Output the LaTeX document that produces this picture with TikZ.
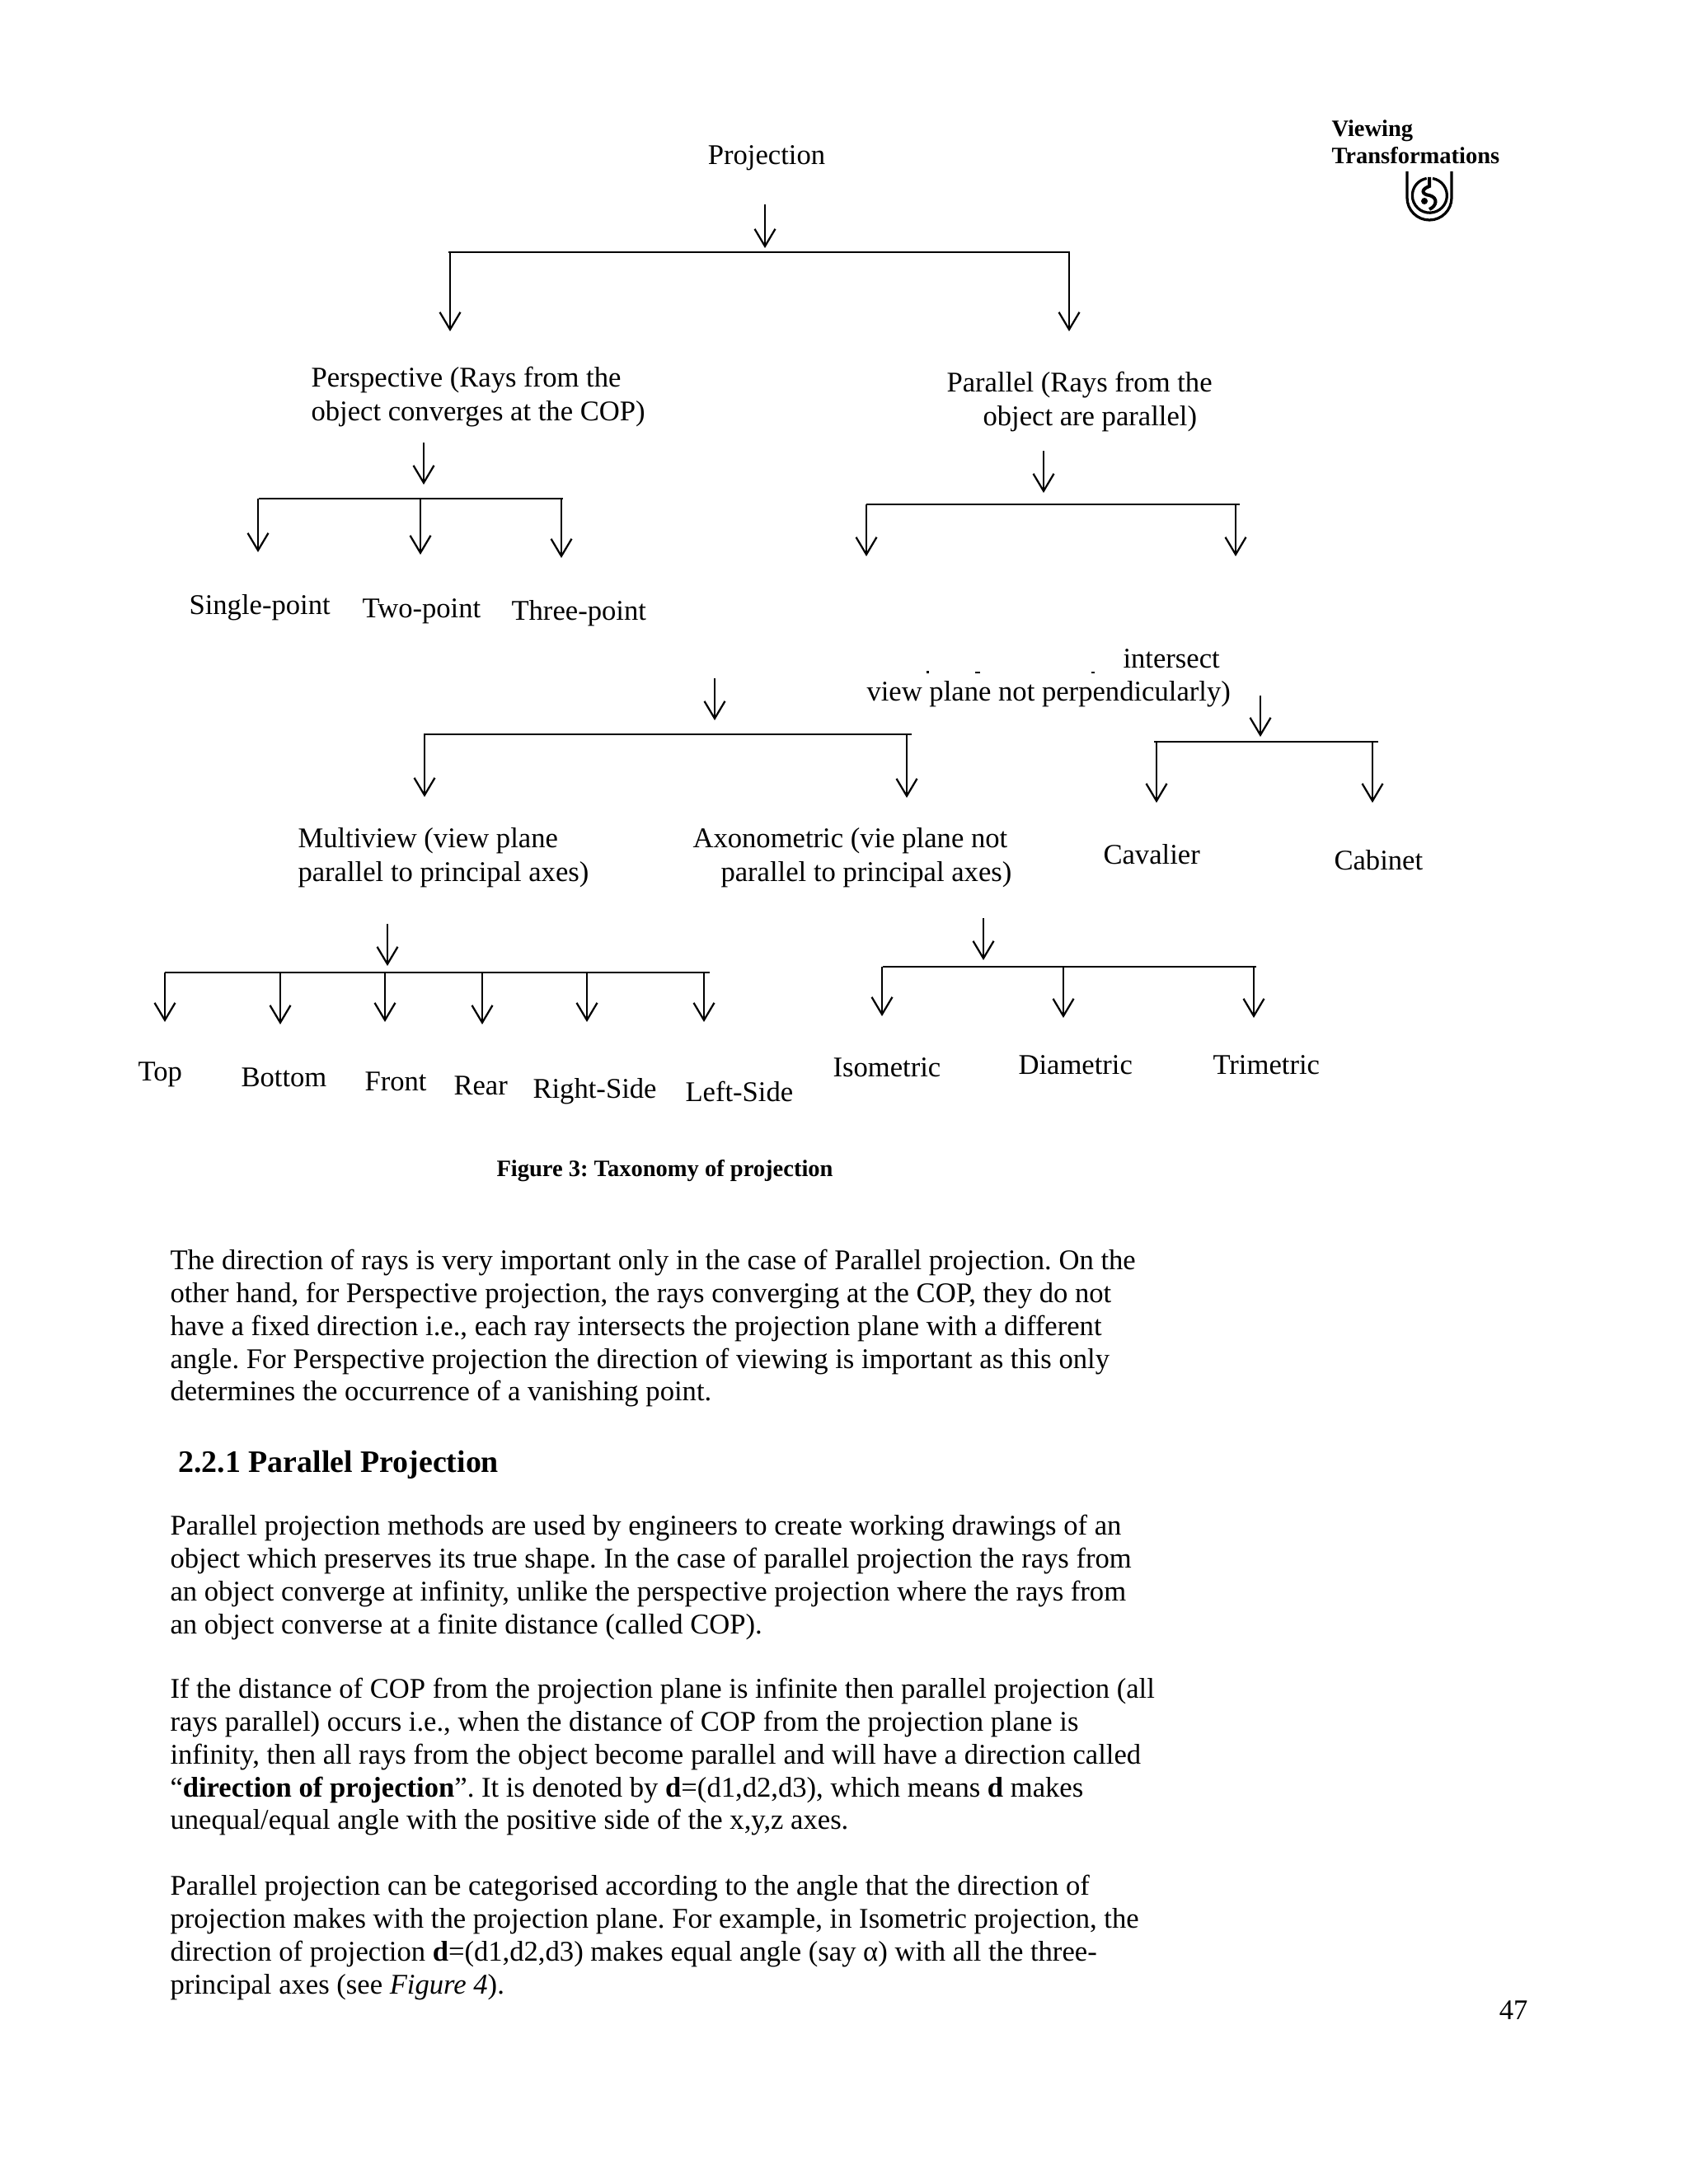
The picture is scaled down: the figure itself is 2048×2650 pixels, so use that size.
\documentclass[tikz,border=0pt]{standalone}
\usepackage{fontspec}
\setmainfont{Liberation Serif}
\usetikzlibrary{arrows.meta}
\tikzset{
  lab/.style={anchor=base west,inner sep=0pt,font=\fontsize{13.85}{17}\selectfont},
  labtwo/.style={anchor=north west,inner sep=0pt,align=left,font=\fontsize{13.85}{16.2}\selectfont},
  headlab/.style={anchor=base west,inner sep=0pt,font=\fontsize{11.4}{13}\selectfont\bfseries},
  bodytext/.style={anchor=north west,inner sep=0pt,align=left,font=\fontsize{13.85}{15.9}\selectfont},
  barline/.style={line width=1pt},
  downarrow/.style={line width=0.9pt,-{Straight Barb[length=8.4pt,width=10pt,line width=0.9pt]}}
}
\begin{document}
\frenchspacing
\begin{tikzpicture}[x=0.4pt,y=-0.4pt]
  \useasboundingbox (0,0) rectangle (2048,2650);

  \node[lab,anchor=base] (projection) at (930,200) {Projection};
  \node[headlab] (viewing) at (1615,166) {Viewing};
  \node[headlab] (transformations) at (1615,199) {Transformations};

  % emblem
  \draw[line width=1.3pt] (1707,208) -- (1707,240) arc[start angle=180,end angle=0,radius=27] -- (1761,208);
  \draw[line width=1.3pt] (1738,216.5) arc[start angle=-80,end angle=260,radius=21] ;
  \draw[line width=1.6pt] (1734,215) -- (1734,226) .. controls (1723,230) and (1725,236) .. (1734,237)
    .. controls (1745,240) and (1743,250) .. (1734,254);
  \fill (1728,244) circle[radius=4];

  % top level
  \coordinate (projIn) at (928,248);
  \coordinate (projInTip) at (928,301);
  \draw[downarrow] (projIn) -- (projInTip);
  \coordinate (projBarL) at (544,306);
  \coordinate (projBarR) at (1298,306);
  \draw[barline] (projBarL) -- (projBarR);
  \coordinate (projA) at (546,306);
  \coordinate (projATip) at (546,402);
  \draw[downarrow] (projA) -- (projATip);
  \coordinate (projB) at (1297,306);
  \coordinate (projBTip) at (1297,402);
  \draw[downarrow] (projB) -- (projBTip);

  \node[labtwo] (perspective) at (377,445) {Perspective (Rays from the\\object converges at the COP)};
  \node[labtwo] (parallel) at (1148,451) {Parallel (Rays from the\\\hspace*{17.6pt}object are parallel)};

  % perspective branch
  \coordinate (perspIn) at (514,537);
  \coordinate (perspInTip) at (514,588);
  \draw[downarrow] (perspIn) -- (perspInTip);
  \coordinate (perspBarL) at (314,605);
  \coordinate (perspBarR) at (683,605);
  \draw[barline] (perspBarL) -- (perspBarR);
  \coordinate (perspA) at (313,605);
  \coordinate (perspATip) at (313,670);
  \draw[downarrow] (perspA) -- (perspATip);
  \coordinate (perspB) at (510,605);
  \coordinate (perspBTip) at (510,673);
  \draw[downarrow] (perspB) -- (perspBTip);
  \coordinate (perspC) at (681,605);
  \coordinate (perspCTip) at (681,677);
  \draw[downarrow] (perspC) -- (perspCTip);

  \node[lab] (singlepoint) at (229,745) {Single-point};
  \node[lab] (twopoint) at (439,749) {Two-point};
  \node[lab] (threepoint) at (620,752) {Three-point};

  % parallel branch
  \coordinate (paralIn) at (1266,547);
  \coordinate (paralInTip) at (1266,598);
  \draw[downarrow] (paralIn) -- (paralInTip);
  \coordinate (paralBarL) at (1051,612);
  \coordinate (paralBarR) at (1504,612);
  \draw[barline] (paralBarL) -- (paralBarR);
  \coordinate (paralA) at (1051,612);
  \coordinate (paralATip) at (1051,675);
  \draw[downarrow] (paralA) -- (paralATip);
  \coordinate (paralB) at (1499,612);
  \coordinate (paralBTip) at (1499,675);
  \draw[downarrow] (paralB) -- (paralBTip);

  \node[lab] (intersect) at (1362,810) {intersect};
  \node[lab] (viewplane) at (1051,850) {view plane not perpendicularly)};
  \fill (1124,814) rectangle (1127,817);
  \fill (1183,815) rectangle (1189,817);
  \fill (1324,815) rectangle (1328,817);

  % orthographic side
  \coordinate (orthoIn) at (867,823);
  \coordinate (orthoInTip) at (867,874);
  \draw[downarrow] (orthoIn) -- (orthoInTip);
  \coordinate (orthoBarL) at (514,891);
  \coordinate (orthoBarR) at (1106,891);
  \draw[barline] (orthoBarL) -- (orthoBarR);
  \coordinate (orthoA) at (515,891);
  \coordinate (orthoATip) at (515,967);
  \draw[downarrow] (orthoA) -- (orthoATip);
  \coordinate (orthoB) at (1100,891);
  \coordinate (orthoBTip) at (1100,968);
  \draw[downarrow] (orthoB) -- (orthoBTip);

  % oblique side
  \coordinate (oblIn) at (1529,844);
  \coordinate (oblInTip) at (1529,894);
  \draw[downarrow] (oblIn) -- (oblInTip);
  \coordinate (oblBarL) at (1400,900);
  \coordinate (oblBarR) at (1672,900);
  \draw[barline] (oblBarL) -- (oblBarR);
  \coordinate (oblA) at (1403,900);
  \coordinate (oblATip) at (1403,974);
  \draw[downarrow] (oblA) -- (oblATip);
  \coordinate (oblB) at (1665,900);
  \coordinate (oblBTip) at (1665,974);
  \draw[downarrow] (oblB) -- (oblBTip);

  \node[labtwo] (multiview) at (361,1004) {Multiview (view plane\\parallel to principal axes)};
  \node[labtwo] (axonometric) at (840,1004) {Axonometric (vie plane not\\\hspace*{13.6pt}parallel to principal axes)};
  \node[lab] (cavalier) at (1338,1048) {Cavalier};
  \node[lab] (cabinet) at (1618,1055) {Cabinet};

  % multiview branch
  \coordinate (multiIn) at (470,1121);
  \coordinate (multiInTip) at (470,1172);
  \draw[downarrow] (multiIn) -- (multiInTip);
  \coordinate (multiBarL) at (200,1180);
  \coordinate (multiBarR) at (861,1180);
  \draw[barline] (multiBarL) -- (multiBarR);
  \coordinate (multiA) at (200,1180);
  \coordinate (multiATip) at (200,1240);
  \draw[downarrow] (multiA) -- (multiATip);
  \coordinate (multiB) at (340,1180);
  \coordinate (multiBTip) at (340,1243);
  \draw[downarrow] (multiB) -- (multiBTip);
  \coordinate (multiC) at (467,1180);
  \coordinate (multiCTip) at (467,1240);
  \draw[downarrow] (multiC) -- (multiCTip);
  \coordinate (multiD) at (585,1180);
  \coordinate (multiDTip) at (585,1243);
  \draw[downarrow] (multiD) -- (multiDTip);
  \coordinate (multiE) at (712,1180);
  \coordinate (multiETip) at (712,1240);
  \draw[downarrow] (multiE) -- (multiETip);
  \coordinate (multiF) at (854,1180);
  \coordinate (multiFTip) at (854,1240);
  \draw[downarrow] (multiF) -- (multiFTip);

  \node[lab] (top) at (167,1311) {Top};
  \node[lab] (bottom) at (292,1318) {Bottom};
  \node[lab] (front) at (442,1323) {Front};
  \node[lab] (rear) at (550,1328) {Rear};
  \node[lab] (rightside) at (646,1332) {Right-Side};
  \node[lab] (leftside) at (831,1336) {Left-Side};

  % axonometric branch
  \coordinate (axoIn) at (1193,1114);
  \coordinate (axoInTip) at (1193,1165);
  \draw[downarrow] (axoIn) -- (axoInTip);
  \coordinate (axoBarL) at (1071,1173);
  \coordinate (axoBarR) at (1524,1173);
  \draw[barline] (axoBarL) -- (axoBarR);
  \coordinate (axoA) at (1070,1173);
  \coordinate (axoATip) at (1070,1233);
  \draw[downarrow] (axoA) -- (axoATip);
  \coordinate (axoB) at (1290,1173);
  \coordinate (axoBTip) at (1290,1235);
  \draw[downarrow] (axoB) -- (axoBTip);
  \coordinate (axoC) at (1521,1173);
  \coordinate (axoCTip) at (1521,1235);
  \draw[downarrow] (axoC) -- (axoCTip);

  \node[lab] (isometric) at (1010,1306) {Isometric};
  \node[lab] (diametric) at (1235,1303) {Diametric};
  \node[lab] (trimetric) at (1471,1303) {Trimetric};

  \node[headlab] (caption) at (602,1427) {Figure 3: Taxonomy of projection};

  % running text
  \node[bodytext] (paraone) at (206,1516) {The direction of rays is very important only in the case of Parallel projection. On the\\
    other hand, for Perspective projection, the rays converging at the COP, they do not\\
    have a fixed direction i.e., each ray intersects the projection plane with a different\\
    angle. For Perspective projection the direction of viewing is important as this only\\
    determines the occurrence of a vanishing point.};
  \node[anchor=base west,inner sep=0pt,font=\fontsize{15.15}{18}\selectfont\bfseries] (sechead) at (216,1786) {2.2.1 Parallel Projection};
  \node[bodytext] (paratwo) at (206,1838) {Parallel projection methods are used by engineers to create working drawings of an\\
    object which preserves its true shape. In the case of parallel projection the rays from\\
    an object converge at infinity, unlike the perspective projection where the rays from\\
    an object converse at a finite distance (called COP).};
  \node[bodytext] (parathree) at (206,2036) {If the distance of COP from the projection plane is infinite then parallel projection (all\\
    rays parallel) occurs i.e., when the distance of COP from the projection plane is\\
    infinity, then all rays from the object become parallel and will have a direction called\\
    “\textbf{direction of projection}”. It is denoted by \textbf{d}=(d1,d2,d3), which means \textbf{d} makes\\
    unequal/equal angle with the positive side of the x,y,z axes.};
  \node[bodytext] (parafour) at (206,2275) {Parallel projection can be categorised according to the angle that the direction of\\
    projection makes with the projection plane. For example, in Isometric projection, the\\
    direction of projection \textbf{d}=(d1,d2,d3) makes equal angle (say α) with all the three-\\
    principal axes (see \textit{Figure 4}).};
  \node[lab,anchor=base east] (pagenum) at (1854,2450) {47};
\end{tikzpicture}
\end{document}
